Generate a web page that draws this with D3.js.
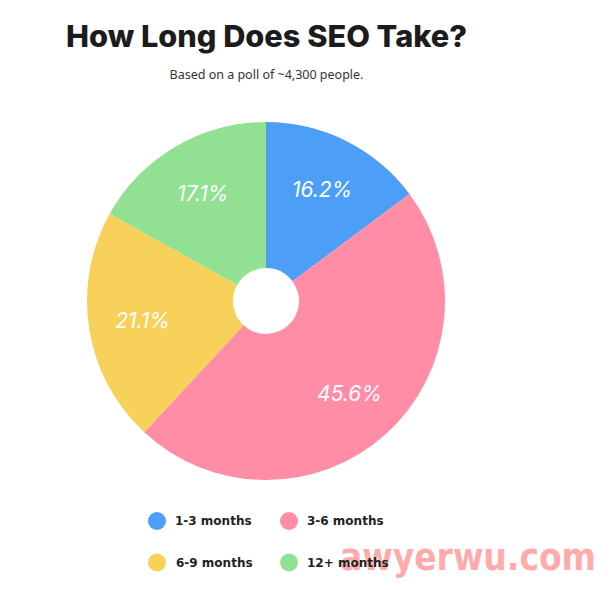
<!DOCTYPE html>
<html>
<head>
<meta charset="utf-8">
<script src="https://cdn.jsdelivr.net/npm/d3@7"></script>
<style>
html,body{margin:0;padding:0;background:#fff;}
svg{display:block;}
</style>
</head>
<body>
<script>
const categories = ["1-3 months", "3-6 months", "6-9 months", "12+ months"];
// slice shares as drawn in the picture (measured from the slice boundaries)
const shares = [14.8, 47.1, 21.2, 16.9];
// percentages printed on the slices
const labels = ["16.2%", "45.6%", "21.1%", "17.1%"];
const colors = ["#4d9ef6", "#ff8da6", "#f7d159", "#92e193"];
const title = "How Long Does SEO Take?";
const subtitle = "Based on a poll of ~4,300 people.";
const watermark = "awyerwu.com";

const W = 615, H = 590;
const svg = d3.select("body").append("svg").attr("width", W).attr("height", H);

svg.append("text").attr("x", 66).attr("y", 47)
  .attr("font-family", "Inter, 'Noto Sans', sans-serif")
  .attr("font-weight", 800).attr("font-size", 30).attr("fill", "#1c1c1c")
  .attr("textLength", 401).attr("lengthAdjust", "spacingAndGlyphs")
  .text(title);

svg.append("text").attr("x", 266.5).attr("y", 79).attr("text-anchor", "middle")
  .attr("font-family", "'Noto Sans', sans-serif")
  .attr("font-size", 12.5).attr("fill", "#333")
  .text(subtitle);

const cx = 266, cy = 301, R = 179, r0 = 33, rl = 125;
const g = svg.append("g").attr("transform", `translate(${cx},${cy})`);
const pie = d3.pie().sort(null).value(d => d)(shares);
const arc = d3.arc().innerRadius(r0).outerRadius(R);
g.selectAll("path.slice").data(pie).join("path")
  .attr("d", arc).attr("fill", (d, i) => colors[i]);

const labArc = d3.arc().innerRadius(rl).outerRadius(rl);
g.selectAll("text.lab").data(pie).join("text")
  .attr("transform", d => `translate(${labArc.centroid(d)})`)
  .attr("text-anchor", "middle").attr("dy", "0.35em")
  .attr("font-family", "Inter, 'Noto Sans', sans-serif")
  .attr("font-style", "italic").attr("font-size", 21).attr("fill", "#fff")
  .text((d, i) => labels[i]);

// watermark (behind the legend text)
svg.append("text").attr("x", 340).attr("y", 570)
  .attr("font-family", "'DejaVu Sans', sans-serif").attr("font-weight", "bold")
  .attr("font-size", 38).attr("fill", "#ffabab")
  .attr("textLength", 256).attr("lengthAdjust", "spacingAndGlyphs")
  .text(watermark);

// legend
const legX = d3.scaleOrdinal().domain([0, 1]).range([157, 289]);
const legY = d3.scaleOrdinal().domain([0, 1]).range([521, 562.5]);
const leg = svg.selectAll("g.leg").data(categories).join("g")
  .attr("transform", (d, i) => `translate(${legX(i % 2)},${legY(Math.floor(i / 2))})`);
leg.append("circle").attr("r", 9).attr("fill", (d, i) => colors[i]);
leg.append("text").attr("x", (d, i) => i === 2 ? 19 : 18).attr("dy", "0.36em")
  .attr("font-family", "'DejaVu Sans', sans-serif").attr("font-weight", "bold")
  .attr("font-size", 12).attr("fill", "#222")
  .text(d => d);
</script>
</body>
</html>
